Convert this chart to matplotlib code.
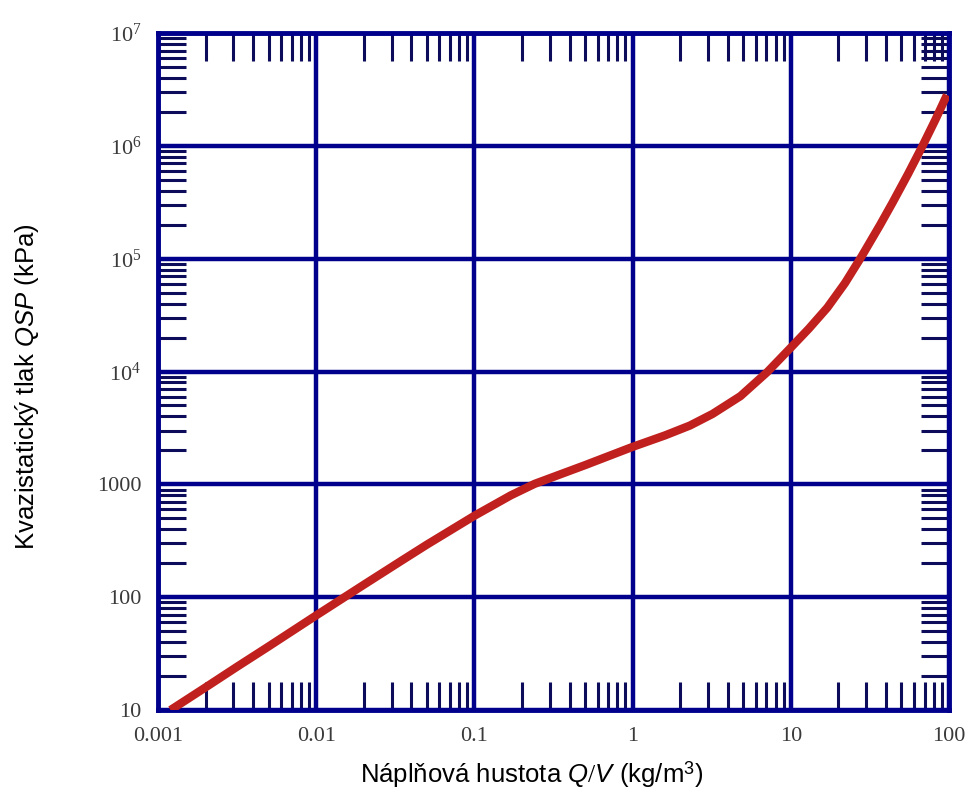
import matplotlib
matplotlib.use("Agg")
import matplotlib.pyplot as plt
from matplotlib.ticker import LogLocator, FixedLocator, NullFormatter

# Loading density Q/V (kg/m^3) and quasi-static pressure QSP (kPa)
density = [0.0012, 0.002, 0.00316, 0.005, 0.01, 0.02, 0.0354, 0.05, 0.1, 0.17,
           0.24, 0.5, 1.0, 1.6, 2.3, 3.2, 4.8, 7.1, 10.0, 13.0,
           17.0, 22.0, 28.0, 36.6, 44.0, 55.0, 68.0, 82.0, 97.0]
pressure = [10, 15.9, 24.2, 36.6, 69, 129, 215, 292, 527, 800,
            1010, 1480, 2150, 2715, 3320, 4210, 6050, 9900, 16300, 24000,
            36800, 60800, 104700, 198600, 314800, 562000, 1000000, 1706000, 2825000]

x_ticks = [0.001, 0.01, 0.1, 1, 10, 100]
x_labels = ["0.001", "0.01", "0.1", "1", "10", "100"]
y_ticks = [10, 100, 1000, 1e4, 1e5, 1e6, 1e7]
y_labels = ["10", "100", "1000", r"$10^{4}$", r"$10^{5}$", r"$10^{6}$", r"$10^{7}$"]

plt.rcParams["mathtext.fontset"] = "custom"
plt.rcParams["mathtext.rm"] = "Liberation Serif"
plt.rcParams["mathtext.it"] = "Liberation Sans:italic"
plt.rcParams["mathtext.sf"] = "Liberation Sans"
plt.rcParams["mathtext.default"] = "rm"

navy = "#00008c"
tick_col = "#0c0c5a"
curve_col = "#c0201e"

fig = plt.figure(figsize=(9.70, 7.96), dpi=100)
ax = fig.add_axes([0.1629, 0.108, 0.9784 - 0.1629, 0.9585 - 0.108])
ax.set_xscale("log")
ax.set_yscale("log")
ax.set_xlim(0.001, 100)
ax.set_ylim(10, 1e7)

ax.grid(True, which="major", color=navy, linewidth=3.2)
ax.set_axisbelow(True)

ax.plot(density, pressure, color=curve_col, linewidth=6.0,
        solid_capstyle="butt", solid_joinstyle="round", zorder=3)

ax.xaxis.set_major_locator(FixedLocator(x_ticks))
ax.yaxis.set_major_locator(FixedLocator(y_ticks))
ax.set_xticklabels(x_labels)
ax.set_yticklabels(y_labels)
ax.xaxis.set_minor_locator(LogLocator(base=10, subs=range(2, 10), numticks=20))
ax.yaxis.set_minor_locator(LogLocator(base=10, subs=range(2, 10), numticks=20))
ax.xaxis.set_minor_formatter(NullFormatter())
ax.yaxis.set_minor_formatter(NullFormatter())

ax.tick_params(which="major", length=0, pad=12, labelsize=16,
               labelcolor="#3a3a3a", labelfontfamily="Liberation Serif")
ax.tick_params(which="minor", direction="in", length=20, width=2.2,
               color=tick_col, top=True, right=True, bottom=True, left=True)

for sp in ax.spines.values():
    sp.set_color(navy)
    sp.set_linewidth(3.5)

ax.set_xlabel(r"Náplňová hustota $\mathit{Q/V}$ (kg/m$^{\mathsf{3}}$)",
              fontsize=18.5, family="Liberation Sans")
ax.set_ylabel(r"Kvazistatický tlak $\mathit{QSP}$ (kPa)", fontsize=18.5,
              family="Liberation Sans")
ax.xaxis.set_label_coords(0.472, -0.072)
ax.yaxis.set_label_coords(-0.148, 0.478)

fig.savefig("out.png", dpi=100)
